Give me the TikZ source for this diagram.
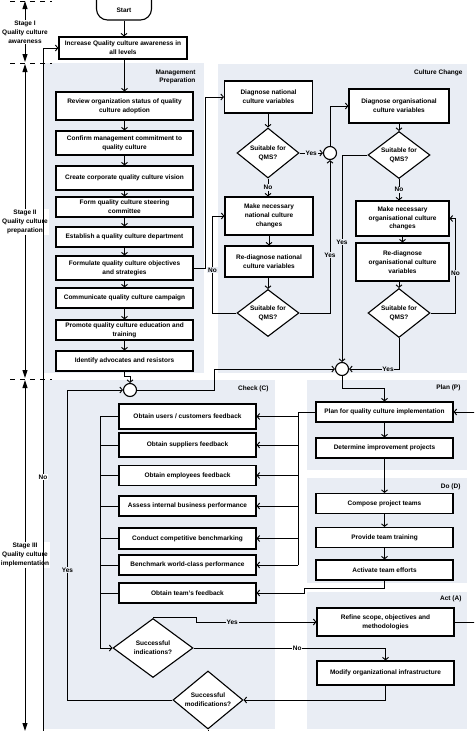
\documentclass[tikz,border=0pt]{standalone}
\usepackage{fontspec}
\setmainfont{Liberation Sans}
\usetikzlibrary{arrows.meta,shapes.geometric}
\definecolor{panel}{RGB}{233,237,244}

\begin{document}
\begin{tikzpicture}[
    x=1pt, y=-1pt,
    every node/.style={font=\fontsize{6.5}{8.8}\selectfont\bfseries},
    box/.style={draw, line width=1.1pt, fill=white, align=center, inner sep=1pt},
    wide/.style={box, minimum width=137pt, minimum height=20pt},
    nat/.style={box, minimum width=88pt},
    org/.style={box, minimum width=93pt},
    decide/.style={draw, line width=1.1pt, fill=white, diamond, aspect=1.3, inner sep=0pt, align=center},
    joint/.style={draw, line width=1.1pt, fill=white, circle, minimum size=13pt, inner sep=0pt},
    arrow/.style={line width=0.95pt, -{Straight Barb[length=2.5pt,width=6pt]}},
    link/.style={line width=0.95pt},
    tag/.style={fill=panel, inner sep=0.8pt},
    wtag/.style={fill=white, inner sep=0.8pt},
    stagearrow/.style={line width=1pt, -{Triangle[length=8pt,width=5pt]}},
    divide/.style={line width=1pt, dash pattern=on 5pt off 5pt},
  ]
  \clip (0,0) rectangle (474,731);
  \fill[white] (0,0) rectangle (474,731);

  \fill[panel] (44,63) rectangle (204,373);
  \fill[panel] (218,64) rectangle (467,373);
  \fill[panel] (44,380) rectangle (275,729);
  \fill[panel] (307,380) rectangle (467,470);
  \fill[panel] (307,478) rectangle (467,583);
  \fill[panel] (307,592) rectangle (467,729);

  \node[anchor=north east, align=right] at (199,66) {Management\\Preparation};
  \node[anchor=east] at (466,73) {Culture Change};
  \node[anchor=east] at (272,389) {Check (C)};
  \node[anchor=east] at (464,388) {Plan (P)};
  \node[anchor=east] at (464,487) {Do (D)};
  \node[anchor=east] at (465,599) {Act (A)};

  \draw[divide] (10,1) -- (52,1);
  \draw[divide] (10,63) -- (52,63);
  \draw[divide] (10,379) -- (52,379);
  \node[wtag, align=center] (stage1) at (25,32) {Stage I\\Quality culture\\awareness};
  \node[wtag, align=center] (stage2) at (25,222) {Stage II\\Quality culture\\preparation};
  \node[wtag, align=center] (stage3) at (25,555) {Stage III\\Quality culture\\implementation};
  \draw[stagearrow] (stage1.north) -- (25,1);
  \draw[stagearrow] (stage1.south) -- (25,62);
  \draw[stagearrow] (stage2.north) -- (25,64);
  \draw[stagearrow] (stage2.south) -- (25,378);
  \draw[stagearrow] (stage3.north) -- (25,380);
  \draw[stagearrow] (stage3.south) -- (25,731);

  \node[draw, line width=1.1pt, fill=white, rounded corners=11pt, minimum width=55pt, minimum height=32pt, text height=16pt, text depth=0pt] (start) at (124,4) {Start};
  \node[wide, minimum width=128pt, minimum height=22pt] (incr) at (123,48) {Increase Quality culture awareness in\\all levels};
  \node[wide, minimum height=28pt] (review) at (124.5,106) {Review organization status of quality\\culture adoption};
  \node[wide, minimum height=24pt] (confirm) at (124.5,143) {Confirm management commitment to\\quality culture};
  \node[wide, minimum height=24pt] (vision) at (124.5,178) {Create corporate quality culture vision};
  \node[wide] (steer) at (124.5,207) {Form quality culture steering\\committee};
  \node[wide] (dept) at (124.5,237) {Establish a quality culture department};
  \node[wide, minimum height=24pt] (goals) at (124.5,268) {Formulate quality culture objectives\\and strategies};
  \node[wide] (campaign) at (124.5,298) {Communicate quality culture campaign};
  \node[wide] (train) at (124.5,330) {Promote quality culture education and\\training};
  \node[wide] (advoc) at (124.5,361) {Identify advocates and resistors};

  \node[nat, minimum height=32pt] (natdiag) at (268.5,97) {Diagnose national\\culture variables};
  \node[decide, minimum width=62pt, minimum height=50pt] (natq1) at (268,153) {Suitable for\\QMS?};
  \node[nat, minimum height=38pt] (natmake) at (269,216) {Make necessary\\national culture\\changes};
  \node[nat, minimum height=31pt] (natre) at (269,261.5) {Re-diagnose national\\culture variables};
  \node[decide, minimum width=62pt, minimum height=47pt] (natq2) at (268,313) {Suitable for\\QMS?};
  \node[joint] (jn1) at (330,153) {};
  \node[box, minimum width=100pt, minimum height=34pt] (orgdiag) at (399,106) {Diagnose organisational\\culture variables};
  \node[decide, minimum width=62pt, minimum height=47pt] (orgq1) at (399,155) {Suitable for\\QMS?};
  \node[org, minimum height=35pt] (orgmake) at (402.5,218.5) {Make necessary\\organisational culture\\changes};
  \node[org, minimum height=38pt] (orgre) at (402.5,262) {Re-diagnose\\organisational culture\\variables};
  \node[decide, minimum width=62pt, minimum height=49pt] (orgq2) at (399,313) {Suitable for\\QMS?};
  \node[joint] (jn2) at (342,369) {};

  \node[joint] (jn3) at (130,390) {};
  \node[wide, minimum height=25pt] (users) at (187.5,416.5) {Obtain users / customers feedback};
  \node[wide, minimum height=24pt] (suppl) at (187.5,445) {Obtain suppliers feedback};
  \node[wide] (staff) at (187.5,475.5) {Obtain employees feedback};
  \node[wide] (assess) at (187.5,506) {Assess internal business performance};
  \node[wide, minimum height=21pt] (bench) at (187.5,538.5) {Conduct competitive benchmarking};
  \node[wide] (world) at (187.5,565) {Benchmark world-class performance};
  \node[wide] (teamfb) at (187.5,593) {Obtain team’s feedback};
  \node[decide, minimum width=80pt, minimum height=59pt] (succ) at (153,648) {Successful\\indications?};
  \node[decide, minimum width=70pt, minimum height=58pt] (modq) at (208,700) {Successful\\modifications?};

  \node[wide] (plan) at (384.5,412) {Plan for quality culture implementation};
  \node[wide] (projects) at (384.5,448) {Determine improvement projects};
  \node[wide] (compose) at (384.5,503.5) {Compose project teams};
  \node[wide] (provide) at (384.5,537.5) {Provide team training};
  \node[wide] (activate) at (384.5,570) {Activate team efforts};
  \node[wide, minimum height=28pt] (refine) at (385.5,622) {Refine scope, objectives and\\methodologies};
  \node[wide, minimum height=24pt] (modify) at (385.5,673) {Modify organizational infrastructure};

  \draw[arrow] (start) -- (start |- incr.north);
  \foreach \a/\b in {incr/review, review/confirm, confirm/vision, vision/steer, steer/dept, dept/goals, goals/campaign, campaign/train, train/advoc, natdiag/natq1, natmake/natre, natre/natq2, orgdiag/orgq1, orgmake/orgre, orgre/orgq2, plan/projects, projects/compose, compose/provide, provide/activate}
    \draw[arrow] (\a.south -| \b.north) -- (\b.north);
  \draw[arrow] (advoc.south) -- ++(0,5) -| (jn3.north);
  \draw[arrow] (goals.east) -- ++(12,0) |- (natdiag.west);

  \draw[arrow] (natq1.east) -- (jn1.west) node[tag, midway] {Yes};
  \draw[arrow] (natq1.south) -- (natq1.south |- natmake.north) node[tag, midway] {No};
  \draw[arrow] (natq2.west) -- ++(-24,0) |- (natmake.west) node[tag, pos=0.22] {No};
  \draw[arrow] (natq2.east) -| (jn1.south) node[tag, pos=0.69] {Yes};
  \draw[arrow] (jn1.north) |- (orgdiag.west);
  \draw[arrow] (orgq1.south) -- (orgq1.south |- orgmake.north) node[tag, midway] {No};
  \draw[arrow] (orgq1.west) -| (jn2.north) node[tag, pos=0.71] {Yes};
  \draw[arrow] (orgq2.east) -- ++(25,0) |- (orgmake.east) node[tag, pos=0.21] {No};
  \draw[arrow] (orgq2.south) |- (jn2.east) node[tag, pos=0.61] {Yes};
  \draw[arrow] (jn3.east) -- ++(77,0) |- (jn2.west);
  \draw[arrow] (jn2.south) -- ++(0,12) -| (plan.north);

  \draw[link] (plan.west) -- ++(-17,0) coordinate (pbus) -- (pbus |- world.east);
  \foreach \b in {users, suppl, staff, assess, bench, world}
    \draw[arrow] (pbus |- \b.east) -- (\b.east);
  \draw[arrow] (activate.south) |- (304,588) |- (teamfb.east);

  \draw[link] (users.west) -- ++(-18,0) coordinate (cbus) -- (cbus |- succ.west);
  \foreach \b in {suppl, staff, assess, bench, world, teamfb}
    \draw[link] (\b.west) -- (cbus |- \b.west);
  \draw[arrow] (cbus |- succ.west) -- (succ.west);

  \draw[arrow] (succ.north) -- ++(43,0) |- (refine.west) node[tag, pos=0.65] {Yes};
  \draw[arrow] (succ.east) -| (modify.north) node[wtag, pos=0.27] {No};
  \draw[arrow] (refine.east) -- (478,622) |- (plan.east);
  \draw[arrow] (modify.south) |- (modq.east);
  \draw[arrow] (modq.west) -- ++(-105,0) |- (jn3.west) node[tag, pos=0.21] {Yes};
  \draw[arrow] (modq.south) |- (43,740) |- (incr.west) node[wtag, pos=0.19] {No};
\end{tikzpicture}
\end{document}
